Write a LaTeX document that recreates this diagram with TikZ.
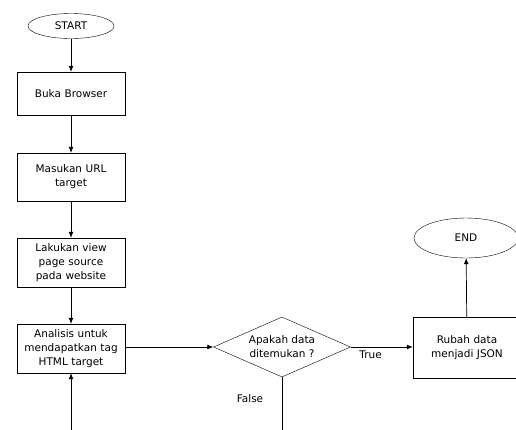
\documentclass[tikz,border=0pt]{standalone}
\usepackage{fontspec}
\setmainfont{DejaVu Sans}
\usetikzlibrary{shapes.geometric,arrows.meta}
\begin{document}
\begin{tikzpicture}[x=1pt, y=-1pt,
        every node/.style={font=\fontsize{10.5}{14}\selectfont, align=center},
        proses/.style={draw, minimum width=108pt, minimum height=48pt, text width=104pt, inner sep=1pt},
        terminal/.style={draw, ellipse, inner sep=0pt},
        keputusan/.style={draw, diamond, minimum width=137pt, minimum height=60pt, inner sep=0pt, aspect=2.28},
        arr/.style={-{Latex[length=6pt,width=5pt]}, line width=.7pt}]
        \useasboundingbox (0,0) rectangle (516,429);
        \clip (0,0) rectangle (516,429);
        \node[terminal, minimum width=86pt, minimum height=25pt] (start) at (71,26) {START};
        \node[proses, minimum height=43pt] (buka) at (71,93.5) {Buka Browser};
        \node[proses] (masukan) at (71,177) {Masukan URL\\target};
        \node[proses, minimum height=49pt] (lakukan) at (71,262.5) {Lakukan view\\page source\\pada website};
        \node[proses, minimum height=49pt] (analisis) at (71,348.5) {Analisis untuk\\mendapatkan tag\\HTML target};
        \node[keputusan] (cek) at (282,347) {Apakah data\\ditemukan ?};
        \node[proses, minimum height=61pt] (rubah) at (467,347.5) {Rubah data\\menjadi JSON};
        \node[terminal, minimum width=104pt, minimum height=40pt] (stop) at (466,238) {END};
        % alur utama
        \draw[arr] (start) -- (buka);
        \draw[arr] (buka) -- (masukan);
        \draw[arr] (masukan) -- (lakukan);
        \draw[arr] (lakukan) -- (analisis);
        \draw[arr] (analisis.east |- cek.west) -- (cek.west);
        \draw[arr] (cek.east) -- node[pos=.32, below=0pt] {True} (rubah.west |- cek.east);
        \draw[arr] (rubah) -- (stop);
        \draw[arr] (cek.south) -- ++(0,80) -| (analisis.south);
        \node (lfalse) at (250,399) {False};
    \end{tikzpicture}
\end{document}
